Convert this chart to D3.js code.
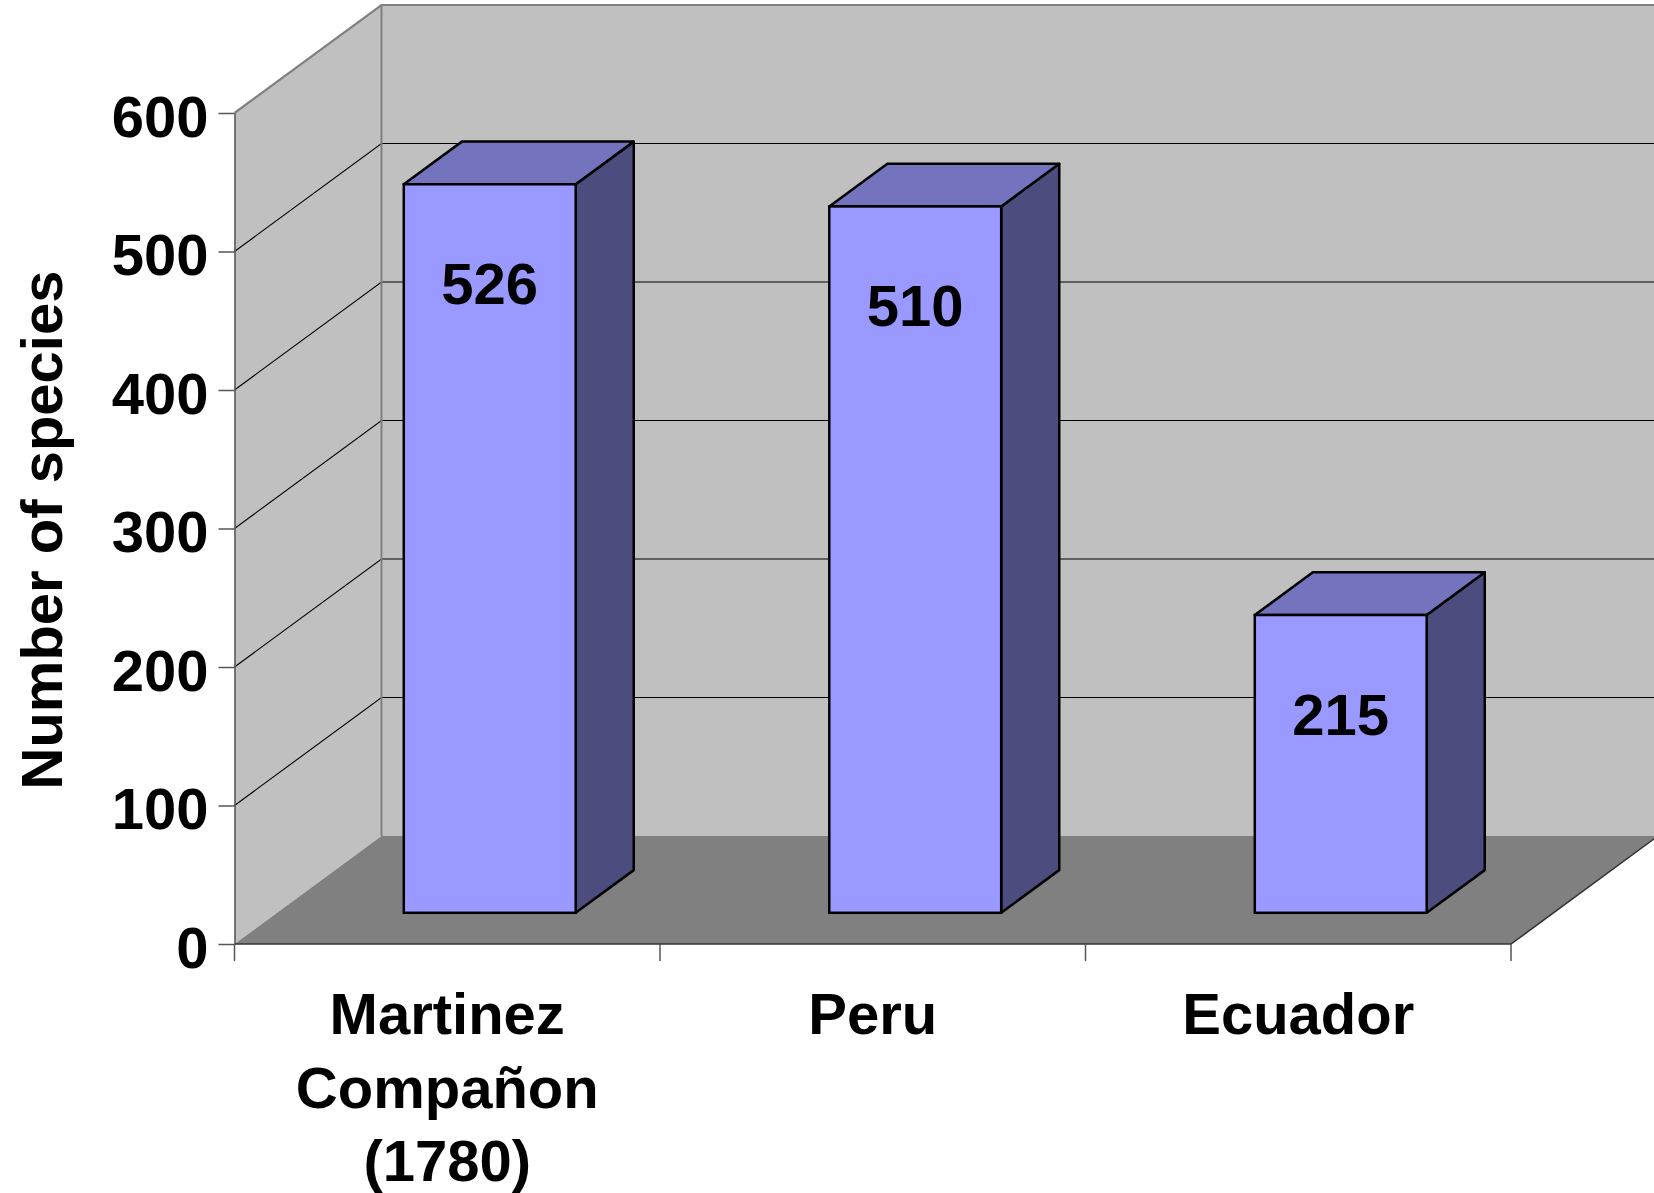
<!DOCTYPE html>
<html>
<head>
<meta charset="utf-8">
<script src="https://cdn.jsdelivr.net/npm/d3@7"></script>
<style>
  body{margin:0;background:#fff;}
  text{font-family:"Liberation Sans",Arial,Helvetica,sans-serif;font-weight:bold;fill:#000;}
</style>
</head>
<body>
<svg id="chart" width="1654" height="1193"></svg>
<script>
// data
var categories = ["Martinez Compañon (1780)", "Peru", "Ecuador"];
var categoryLines = [["Martinez", "Compañon", "(1780)"], ["Peru"], ["Ecuador"]];
var species = [526, 510, 215];
var yTicks = [0, 100, 200, 300, 400, 500, 600];

var svg = d3.select("#chart");

// 3d frame
var depthX = 147, depthY = 108;
var x = d3.scaleBand().domain(categories).range([234.5, 1511]);
var y = d3.scaleLinear().domain([0, 600]).range([944, 113]);
function px(v, z){ return v + z * depthX; }
function py(v, z){ return v - z * depthY; }

var x0 = x.range()[0], x1 = x.range()[1];
var yBase = y(0), yTop = y(600);

// back wall
svg.append("rect")
   .attr("x", px(x0, 1)).attr("y", py(yTop, 1))
   .attr("width", 1700 - px(x0, 1)).attr("height", yBase - yTop)
   .attr("fill", "#c0c0c0");

// left wall
svg.append("polygon")
   .attr("points", [[x0, yBase], [x0, yTop], [px(x0, 1), py(yTop, 1)], [px(x0, 1), py(yBase, 1)]].join(" "))
   .attr("fill", "#c0c0c0");

// floor
svg.append("polygon")
   .attr("points", [[x0, yBase], [x1, yBase], [px(x1, 1), py(yBase, 1)], [px(x0, 1), py(yBase, 1)]].join(" "))
   .attr("fill", "#808080");

// gridlines
yTicks.forEach(function(v){
  if(v == 0) return;
  svg.append("path")
     .attr("d", "M" + x0 + "," + y(v) + "L" + px(x0, 1) + "," + py(y(v), 1) + "L1700," + py(y(v), 1))
     .attr("fill", "none")
     .attr("stroke", v == 600 ? "#808080" : "#000")
     .attr("stroke-width", v == 600 ? 2.2 : 1.1);
});

// wall edge
svg.append("line")
   .attr("x1", px(x0, 1)).attr("x2", px(x0, 1))
   .attr("y1", py(yTop, 1)).attr("y2", py(yBase, 1))
   .attr("stroke", "#808080").attr("stroke-width", 2);

// floor edges
svg.append("path")
   .attr("d", "M" + x0 + "," + yBase + "L" + x1 + "," + yBase + "L" + px(x1, 1) + "," + py(yBase, 1))
   .attr("fill", "none").attr("stroke", "#333").attr("stroke-width", 1.5);

// y axis
var yAxis = svg.append("g")
   .attr("transform", "translate(" + x0 + ",0)")
   .call(d3.axisLeft(y).tickValues(yTicks).tickSize(16).tickSizeOuter(0).tickPadding(10));
yAxis.select(".domain").attr("stroke", "#555").attr("stroke-width", 1.5);
yAxis.selectAll(".tick line").attr("stroke", "#555").attr("stroke-width", 1.5);
yAxis.selectAll(".tick text")
   .attr("dy", "0.4em")
   .style("font-size", "58px")
   .style("font-family", "'Liberation Sans', Arial, sans-serif")
   .style("font-weight", "bold")
   .attr("fill", "#000");

// x boundary ticks
d3.range(categories.length + 1).forEach(function(i){
  var tx = x0 + i * x.step();
  svg.append("line")
     .attr("x1", tx).attr("x2", tx).attr("y1", yBase).attr("y2", yBase + 17)
     .attr("stroke", "#555").attr("stroke-width", 1.5);
});

// bars
var zFront = 0.289, zBack = 0.684;
var barW = x.bandwidth() * 0.404;
var bars = svg.selectAll(".bar")
   .data(species)
   .enter().append("g")
   .attr("class", "bar");

function barLeft(d, i){ return x(categories[i]) + (x.bandwidth() - barW) / 2; }

bars.append("polygon")   // side
   .attr("points", function(d, i){
     var r = barLeft(d, i) + barW;
     return [[px(r, zFront), py(y(d), zFront)], [px(r, zBack), py(y(d), zBack)],
             [px(r, zBack), py(yBase, zBack)], [px(r, zFront), py(yBase, zFront)]].join(" ");
   })
   .attr("fill", "#4c4c7e").attr("stroke", "#000").attr("stroke-width", 2.5).attr("stroke-linejoin", "round");

bars.append("polygon")   // top
   .attr("points", function(d, i){
     var l = barLeft(d, i), r = l + barW;
     return [[px(l, zFront), py(y(d), zFront)], [px(r, zFront), py(y(d), zFront)],
             [px(r, zBack), py(y(d), zBack)], [px(l, zBack), py(y(d), zBack)]].join(" ");
   })
   .attr("fill", "#7373be").attr("stroke", "#000").attr("stroke-width", 2.5).attr("stroke-linejoin", "round");

bars.append("rect")      // front
   .attr("x", function(d, i){ return px(barLeft(d, i), zFront); })
   .attr("y", function(d){ return py(y(d), zFront); })
   .attr("width", barW)
   .attr("height", function(d){ return yBase - y(d); })
   .attr("fill", "#9999ff").attr("stroke", "#000").attr("stroke-width", 2.5);

bars.append("text")
   .attr("x", function(d, i){ return px(barLeft(d, i) + barW / 2, zFront); })
   .attr("y", function(d){ return py(y(d), zFront) + 120; })
   .attr("text-anchor", "middle")
   .style("font-size", "58px")
   .text(function(d){ return d; });

// category labels
categoryLines.forEach(function(lines, i){
  var t = svg.append("text")
     .attr("text-anchor", "middle")
     .style("font-size", "58px");
  lines.forEach(function(s, j){
    t.append("tspan")
     .attr("x", x(categories[i]) + x.bandwidth() / 2)
     .attr("y", 1034 + j * 73.5)
     .text(s);
  });
});

// axis title
svg.append("text")
   .attr("transform", "translate(62,530) rotate(-90)")
   .attr("text-anchor", "middle")
   .style("font-size", "58px")
   .text("Number of species");
</script>
</body>
</html>
